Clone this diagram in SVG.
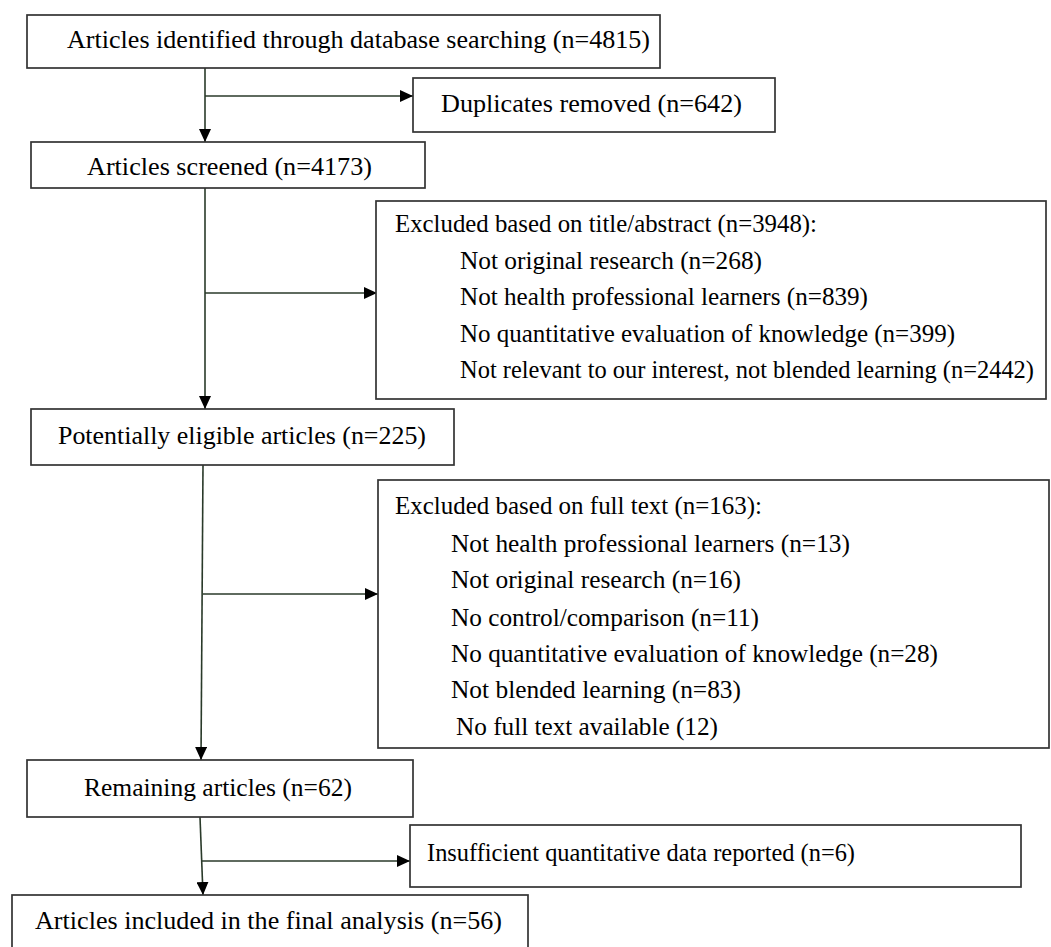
<svg xmlns="http://www.w3.org/2000/svg" width="1051" height="947" viewBox="0 0 1051 947">
<defs>
<marker id="ah" markerWidth="13" markerHeight="12" refX="13" refY="6" orient="auto" markerUnits="userSpaceOnUse">
<path d="M0,0 L13,6 L0,12 Z" fill="#000"/>
</marker>
<style>
.box{fill:#fff;stroke:#333;stroke-width:1.7}
.ln{fill:none;stroke:#2a3a2a;stroke-width:1.6}
.t{font-family:"Liberation Serif","Times New Roman",serif;font-size:26px;fill:#000}
.s{font-size:25px}
</style>
</defs>
<rect width="1051" height="947" fill="#fff"/>
<g id="connectors">
<line class="ln" x1="205" y1="68" x2="205" y2="142" marker-end="url(#ah)"/>
<line class="ln" x1="205" y1="96" x2="413" y2="96" marker-end="url(#ah)"/>
<line class="ln" x1="205" y1="188" x2="205" y2="409" marker-end="url(#ah)"/>
<line class="ln" x1="205" y1="293" x2="377" y2="293" marker-end="url(#ah)"/>
<line class="ln" x1="203" y1="465" x2="201" y2="760" marker-end="url(#ah)"/>
<line class="ln" x1="203" y1="594" x2="378" y2="594" marker-end="url(#ah)"/>
<line class="ln" x1="200" y1="817" x2="203" y2="895" marker-end="url(#ah)"/>
<line class="ln" x1="202" y1="861" x2="410" y2="861" marker-end="url(#ah)"/>
</g>
<g id="n1"><rect class="box" x="27" y="15" width="633" height="53"/>
<text class="t" x="67" y="48" textLength="583" lengthAdjust="spacingAndGlyphs">Articles identified through database searching (n=4815)</text></g>
<g id="n2"><rect class="box" x="413" y="78" width="362" height="54"/>
<text class="t" x="441" y="112" textLength="301" lengthAdjust="spacingAndGlyphs">Duplicates removed (n=642)</text></g>
<g id="n3"><rect class="box" x="31" y="142" width="394" height="46"/>
<text class="t" x="87" y="175" textLength="285" lengthAdjust="spacingAndGlyphs">Articles screened (n=4173)</text></g>
<g id="n4"><rect class="box" x="376" y="201" width="670" height="198"/>
<text class="t" x="395" y="232" textLength="422" lengthAdjust="spacingAndGlyphs">Excluded based on title/abstract (n=3948):</text>
<text class="t" x="460" y="269" textLength="302" lengthAdjust="spacingAndGlyphs">Not original research (n=268)</text>
<text class="t" x="460" y="305" textLength="408" lengthAdjust="spacingAndGlyphs">Not health professional learners (n=839)</text>
<text class="t" x="460" y="342" textLength="495" lengthAdjust="spacingAndGlyphs">No quantitative evaluation of knowledge (n=399)</text>
<text class="t s" x="460" y="378" textLength="574" lengthAdjust="spacingAndGlyphs">Not relevant to our interest, not blended learning (n=2442)</text></g>
<g id="n5"><rect class="box" x="31" y="409" width="423" height="56"/>
<text class="t" x="58" y="444" textLength="368" lengthAdjust="spacingAndGlyphs">Potentially eligible articles (n=225)</text></g>
<g id="n6"><rect class="box" x="378" y="480" width="671" height="268"/>
<text class="t" x="395" y="514" textLength="367" lengthAdjust="spacingAndGlyphs">Excluded based on full text (n=163):</text>
<text class="t" x="451" y="552" textLength="399" lengthAdjust="spacingAndGlyphs">Not health professional learners (n=13)</text>
<text class="t" x="451" y="588" textLength="290" lengthAdjust="spacingAndGlyphs">Not original research (n=16)</text>
<text class="t" x="451" y="626" textLength="308" lengthAdjust="spacingAndGlyphs">No control/comparison (n=11)</text>
<text class="t" x="451" y="662" textLength="487" lengthAdjust="spacingAndGlyphs">No quantitative evaluation of knowledge (n=28)</text>
<text class="t" x="451" y="698" textLength="290" lengthAdjust="spacingAndGlyphs">Not blended learning (n=83)</text>
<text class="t" x="456" y="735" textLength="262" lengthAdjust="spacingAndGlyphs">No full text available (12)</text></g>
<g id="n7"><rect class="box" x="27" y="760" width="386" height="57"/>
<text class="t" x="84" y="796" textLength="268" lengthAdjust="spacingAndGlyphs">Remaining articles (n=62)</text></g>
<g id="n8"><rect class="box" x="410" y="825" width="611" height="62"/>
<text class="t" x="427" y="861" textLength="428" lengthAdjust="spacingAndGlyphs">Insufficient quantitative data reported (n=6)</text></g>
<g id="n9"><rect class="box" x="12" y="895" width="516" height="60"/>
<text class="t" x="35" y="929" textLength="467" lengthAdjust="spacingAndGlyphs">Articles included in the final analysis (n=56)</text></g>
</svg>
